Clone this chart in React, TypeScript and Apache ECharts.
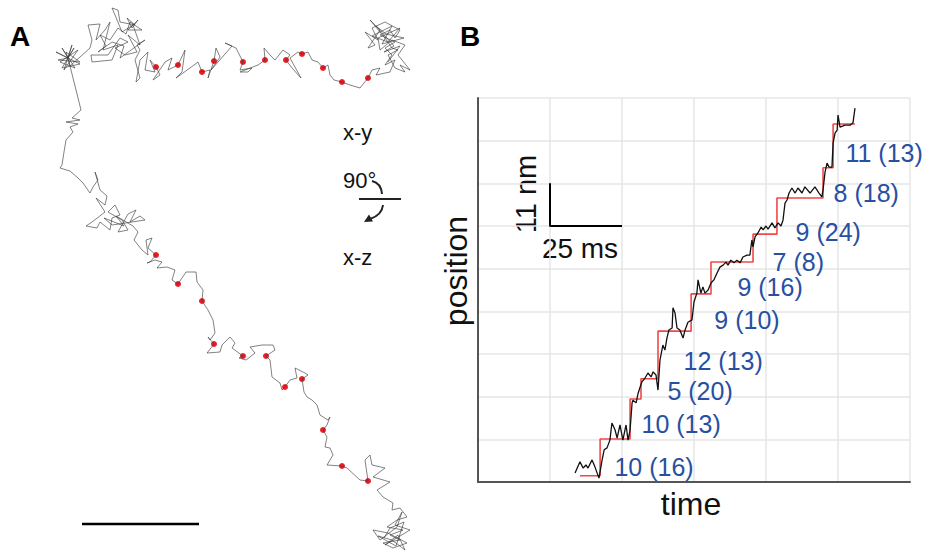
import React, { useEffect, useRef } from "react";
import * as echarts from "echarts";

// ---------- Panel A: trajectory positions (plot units) ----------
const trajXY: number[][] = [
  [81, 110], [68, 58], [56, 52], [80, 64], [62, 68], [74, 48], [68, 58], [62, 48], [75, 68], [60, 62],
  [78, 50], [64, 70], [72, 45], [68, 58], [58, 60],
  [80, 62], [66, 52], [70, 66], [90, 48], [92, 40], [88, 25], [100, 24], [96, 40], [105, 30], [110, 22],
  [103, 50], [118, 45], [112, 60], [92, 62], [91, 55], [108, 55], [120, 38], [128, 42], [115, 48], [125, 55],
  [137, 52], [128, 35], [140, 45], [133, 25], [122, 32], [115, 15], [112, 8], [118, 10], [120, 22], [135, 25],
  [127, 18], [132, 28], [138, 20], [128, 30], [142, 30], [130, 22], [126, 34], [118, 28], [110, 40], [100, 35],
  [106, 46], [98, 52], [112, 42], [124, 46], [120, 58], [145, 40], [137, 45], [140, 50], [135, 60], [140, 78],
  [136, 82], [140, 60], [148, 52], [145, 70], [155, 72], [150, 60], [156, 67], [160, 75], [153, 80], [165, 62],
  [172, 58], [168, 70], [178, 65], [185, 50], [182, 72], [176, 78], [190, 68], [198, 62], [202, 72], [210, 70],
  [208, 78], [214, 61], [216, 48], [220, 57], [211, 70], [232, 46], [225, 43], [236, 48], [243, 62], [240, 70],
  [252, 68], [248, 72], [240, 72], [258, 65], [265, 60], [264, 48], [270, 55], [275, 60], [283, 50], [290, 55],
  [286, 60], [292, 68], [301, 78], [290, 58], [298, 52], [302, 54], [308, 52], [312, 60], [318, 62], [323, 68],
  [328, 65], [330, 75], [334, 80], [342, 82], [350, 85], [360, 88], [368, 78], [372, 70], [380, 68], [376, 75],
  [390, 72], [395, 60], [385, 65], [392, 55], [385, 48], [395, 42], [380, 35], [390, 30], [395, 38], [400, 30],
  [385, 22], [372, 28], [378, 40], [365, 32], [375, 45], [368, 48], [380, 30], [370, 20], [385, 38], [392, 48],
  [398, 50], [388, 55], [395, 68], [405, 72], [400, 65], [410, 70], [398, 55], [405, 45], [392, 40], [380, 50],
  [378, 38], [400, 28], [388, 42], [372, 36], [392, 26], [382, 44], [404, 38], [386, 34], [376, 26], [394, 46],
  [384, 52], [400, 46], [388, 62],
];

const trajXZ: number[][] = [
  [81, 110], [72, 118], [80, 120], [66, 122], [78, 124], [70, 127], [73, 132], [66, 140], [64, 152], [62, 165],
  [60, 168], [70, 171], [78, 178], [83, 183], [90, 193], [93, 187], [98, 180], [95, 172], [100, 190], [107, 196],
  [105, 205], [96, 198], [105, 212], [92, 222], [86, 226], [97, 228], [100, 222], [110, 230], [112, 218], [120, 215],
  [115, 205], [108, 212], [122, 220], [128, 230], [118, 232], [128, 214], [136, 210], [130, 222], [140, 216], [145, 220],
  [112, 225], [104, 218], [124, 226], [116, 216], [133, 226], [138, 232], [134, 240], [142, 250], [148, 255], [146, 240], [152, 238], [148, 248], [156, 255], [150, 262],
  [147, 263], [155, 260], [162, 262], [157, 268], [167, 267], [175, 270], [172, 280], [178, 284], [186, 272], [196, 272],
  [197, 282], [203, 290], [202, 301], [208, 310], [213, 320], [215, 333], [210, 340], [208, 337], [214, 344], [207, 353],
  [220, 352], [222, 345], [230, 337], [235, 343], [232, 348], [243, 356], [239, 358], [246, 360], [250, 357], [255, 353],
  [250, 347], [262, 345], [273, 345], [275, 350], [266, 356], [270, 360], [272, 377], [280, 383], [282, 390], [285, 387],
  [290, 380], [297, 378], [295, 368], [305, 373], [308, 375], [302, 379], [304, 392], [307, 397], [312, 400], [317, 405],
  [320, 415], [328, 420], [330, 417], [327, 425], [323, 430], [327, 437], [325, 447], [330, 448], [333, 455], [327, 465],
  [342, 466], [347, 468], [360, 480], [368, 481], [365, 460], [370, 455], [372, 465], [385, 468], [373, 477], [390, 482],
  [377, 490], [383, 497], [393, 503], [392, 510], [400, 508], [407, 517], [397, 520], [387, 527], [403, 530], [390, 535],
  [400, 540], [383, 543], [393, 548], [407, 543], [388, 533], [373, 530], [380, 540], [397, 527], [402, 512], [395, 525],
  [410, 530], [385, 545], [398, 535], [405, 550], [392, 540], [378, 536], [396, 546], [404, 522], [390, 528], [384, 538],
];

const dotsXY: number[][] = [
  [156, 67], [178, 65], [202, 72], [214, 61], [243, 62], [265, 60], [286, 60], [302, 54], [323, 68], [342, 82], [368, 78],
];
const dotsXZ: number[][] = [
  [156, 255], [178, 284], [202, 301], [214, 344], [243, 356], [266, 356], [285, 387], [302, 379], [323, 430], [342, 466], [368, 481],
];
const scaleBarA: number[][] = [[82, 524], [199, 524]];

// ---------- Panel B: time (ms) vs position (nm) ----------
const traceTime = [
  33.7, 35.4, 36.5, 37.5, 38.2, 39.6, 40.6, 42.0, 43.1, 43.8,
  44.8, 45.8, 46.5, 47.6, 48.3, 49.3, 50.3, 51.4, 52.1, 52.8,
  53.5, 53.8, 54.9, 55.6, 56.3, 56.9, 58.0, 59.0, 60.1, 60.8,
  61.8, 62.5, 63.2, 64.2, 64.9, 65.6, 66.3, 67.4, 67.7, 68.4,
  69.1, 70.1, 71.2, 71.9, 72.9, 74.3, 75.0, 76.0, 76.4, 77.4,
  78.1, 78.8, 79.9, 80.9, 81.9, 83.0, 84.0, 85.1, 86.1, 86.8,
  87.8, 88.9, 89.9, 91.0, 92.0, 93.4, 94.4, 95.1, 95.5, 96.2,
  97.2, 98.3, 99.0, 100.0, 100.7, 102.1, 103.1, 104.2, 105.2, 105.9,
  106.6, 107.3, 108.0, 109.0, 110.1, 111.1, 112.5, 113.5, 115.3, 117.0,
  118.4, 119.4, 119.8, 120.5, 121.2, 121.9, 122.9, 123.3, 124.0, 124.7,
  125.0, 125.7, 127.4, 129.2, 130.2, 130.9,
];
const tracePos = [
  2.3, 5.2, 3.6, 4.4, 3.6, 5.7, 3.9, 1.0, 5.7, 8.3,
  8.8, 10.8, 15.2, 13.4, 11.3, 14.7, 10.8, 14.7, 10.8, 13.4,
  20.4, 21.1, 20.4, 22.9, 24.5, 25.8, 26.8, 28.1, 27.1, 28.4,
  27.6, 23.7, 31.5, 35.3, 34.0, 37.1, 39.2, 39.7, 44.9, 43.6,
  39.7, 39.2, 37.1, 39.2, 41.2, 41.8, 46.4, 48.7, 52.1, 48.7,
  50.3, 48.7, 49.5, 51.3, 52.1, 53.9, 55.4, 55.9, 56.7, 55.9,
  57.2, 56.5, 57.2, 56.5, 58.0, 58.5, 58.5, 62.4, 60.6, 63.2,
  64.2, 65.7, 65.0, 66.0, 65.2, 66.8, 65.5, 66.8, 66.0, 67.5,
  71.9, 72.7, 74.5, 75.8, 74.5, 75.8, 74.5, 76.1, 74.5, 76.1,
  74.5, 73.5, 75.3, 79.9, 82.2, 81.2, 81.2, 87.4, 90.0, 90.7,
  94.6, 91.5, 92.0, 92.0, 92.6, 96.4,
];

const stepTime = [35.4, 42.4, 52.8, 56.6, 62.5, 74.0, 80.9, 95.5, 103.8, 119.8, 123.3, 130.9];
const stepPos = [1.6, 11.1, 21.4, 26.6, 38.9, 48.5, 56.7, 63.9, 73.2, 81.0, 92.3, 92.3];

const labelText = ["10 (16)", "10 (13)", "5 (20)", "12 (13)", "9 (10)", "9 (16)", "7 (8)", "9 (24)", "8 (18)", "11 (13)"];
const labelTime = [47.2, 56.6, 65.6, 71.2, 81.9, 89.9, 102.1, 110.1, 123.3, 127.4];
const labelPos = [3.9, 15.0, 23.5, 31.2, 41.8, 50.3, 56.7, 64.5, 74.5, 84.8];

const scaleBarB: number[][] = [[25, 77], [25, 66], [50, 66]];

const FONT = "'Liberation Sans', Arial, Helvetica, sans-serif";

export default function App() {
  const ref = useRef<HTMLDivElement>(null);
  useEffect(() => {
    if (!ref.current) return;
    const chart = echarts.init(ref.current, undefined, { renderer: "svg" });
    const trajStyle = { color: "#3a3a3a", width: 0.8, opacity: 0.8 };
    chart.setOption({
      animation: false,
      backgroundColor: "#ffffff",
      textStyle: { fontFamily: FONT },
      grid: [
        { left: 0, top: 0, width: 450, height: 552 },
        { left: 478, top: 98, right: 17, bottom: 70 },
      ],
      xAxis: [
        { gridIndex: 0, type: "value", min: 0, max: 450, show: false },
        {
          gridIndex: 1, type: "value", min: 0, max: 150, interval: 25,
          axisLine: { show: true, lineStyle: { color: "#555", width: 2 } },
          axisTick: { show: false }, axisLabel: { show: false },
          splitLine: { show: true, lineStyle: { color: "#e6e6e6", width: 1.5 } },
        },
      ],
      yAxis: [
        { gridIndex: 0, type: "value", min: 0, max: 552, inverse: true, show: false },
        {
          gridIndex: 1, type: "value", min: 0, max: 99, interval: 11,
          axisLine: { show: true, lineStyle: { color: "#555", width: 2 } },
          axisTick: { show: false }, axisLabel: { show: false },
          splitLine: { show: true, lineStyle: { color: "#e6e6e6", width: 1.5 } },
        },
      ],
      series: [
        { type: "line", xAxisIndex: 0, yAxisIndex: 0, data: trajXY, showSymbol: false, lineStyle: trajStyle, silent: true },
        { type: "line", xAxisIndex: 0, yAxisIndex: 0, data: trajXZ, showSymbol: false, lineStyle: trajStyle, silent: true },
        { type: "scatter", xAxisIndex: 0, yAxisIndex: 0, data: dotsXY.concat(dotsXZ), symbolSize: 6, itemStyle: { color: "#ec1c24", opacity: 1 } },
        { type: "line", xAxisIndex: 0, yAxisIndex: 0, data: scaleBarA, showSymbol: false, lineStyle: { color: "#000", width: 2.5 } },
        {
          type: "line", xAxisIndex: 1, yAxisIndex: 1, step: "end",
          data: stepTime.map((t, i) => [t, stepPos[i]]), showSymbol: false,
          lineStyle: { color: "#f04848", width: 1.6 },
        },
        {
          type: "line", xAxisIndex: 1, yAxisIndex: 1,
          data: traceTime.map((t, i) => [t, tracePos[i]]), showSymbol: false,
          lineStyle: { color: "#111", width: 1.3 },
        },
        { type: "line", xAxisIndex: 1, yAxisIndex: 1, data: scaleBarB, showSymbol: false, lineStyle: { color: "#000", width: 2 } },
        {
          type: "scatter", xAxisIndex: 1, yAxisIndex: 1, symbolSize: 1, itemStyle: { color: "rgba(0,0,0,0)", opacity: 1 },
          data: labelTime.map((t, i) => ({ value: [t, labelPos[i]], name: labelText[i] })),
          label: {
            show: true, position: "right", distance: 0, formatter: (p: any) => p.name,
            color: "#2750a2", fontSize: 25, fontFamily: FONT, align: "left", verticalAlign: "middle",
          },
        },
      ],
      graphic: [
        { type: "text", x: 10, y: 36, style: { text: "A", font: `bold 28px ${FONT}`, fill: "#000", align: "left", verticalAlign: "middle" } },
        { type: "text", x: 460, y: 36, style: { text: "B", font: `bold 28px ${FONT}`, fill: "#000", align: "left", verticalAlign: "middle" } },
        { type: "text", x: 343, y: 132, style: { text: "x-y", font: `22px ${FONT}`, fill: "#111", align: "left", verticalAlign: "middle" } },
        { type: "text", x: 343, y: 180, style: { text: "90°", font: `22px ${FONT}`, fill: "#111", align: "left", verticalAlign: "middle" } },
        { type: "text", x: 343, y: 257, style: { text: "x-z", font: `22px ${FONT}`, fill: "#111", align: "left", verticalAlign: "middle" } },
        { type: "line", shape: { x1: 359, y1: 199, x2: 401, y2: 199 }, style: { stroke: "#222", lineWidth: 2 } },
        { type: "bezierCurve", shape: { x1: 372, y1: 181, cpx1: 381, cpy1: 183, x2: 382, y2: 194 }, style: { stroke: "#222", lineWidth: 2, fill: "none" } },
        { type: "bezierCurve", shape: { x1: 383, y1: 205, cpx1: 382, cpy1: 215, x2: 370, y2: 219 }, style: { stroke: "#222", lineWidth: 2, fill: "none" } },
        { type: "polygon", shape: { points: [[364, 222], [373, 221.5], [369, 214.5]] }, style: { fill: "#222" } },
        { type: "text", x: 526, y: 194, rotation: Math.PI / 2, style: { text: "11 nm", font: `29px ${FONT}`, fill: "#111", align: "center", verticalAlign: "middle" } },
        { type: "text", x: 580, y: 248, style: { text: "25 ms", font: `28px ${FONT}`, fill: "#111", align: "center", verticalAlign: "middle" } },
        { type: "text", x: 456, y: 271, rotation: Math.PI / 2, style: { text: "position", font: `32px ${FONT}`, fill: "#111", align: "center", verticalAlign: "middle" } },
        { type: "text", x: 691, y: 504, style: { text: "time", font: `32px ${FONT}`, fill: "#111", align: "center", verticalAlign: "middle" } },
      ],
    });
    return () => chart.dispose();
  }, []);
  return <div ref={ref} style={{ position: "fixed", left: 0, top: 0, width: 927, height: 552, background: "#fff" }} />;
}
